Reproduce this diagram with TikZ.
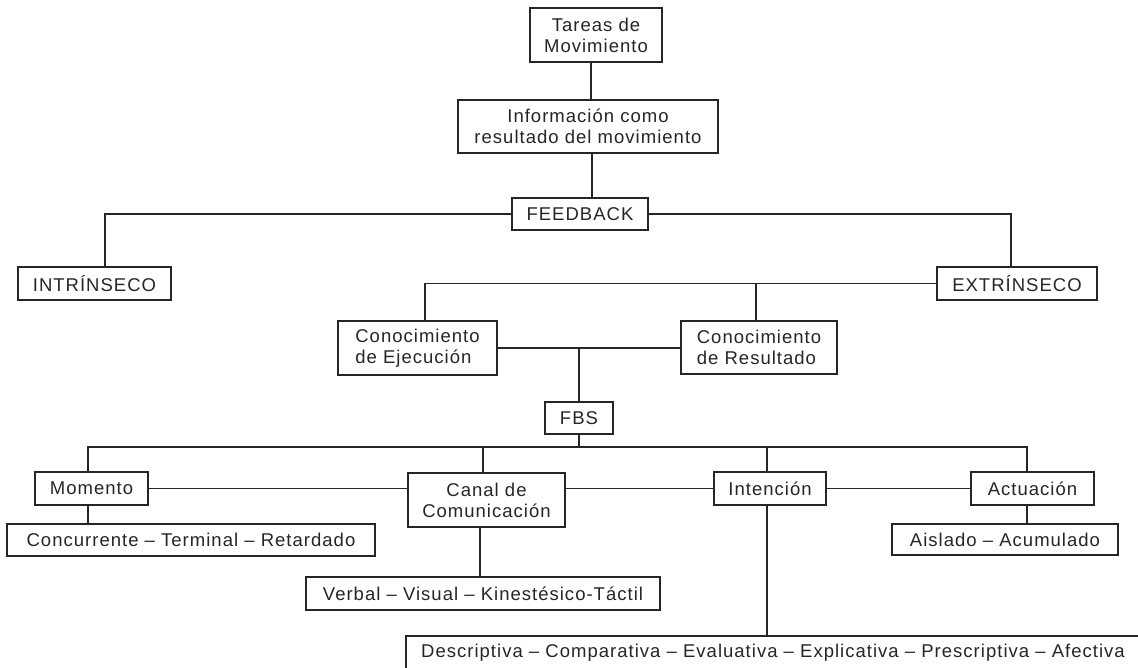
\documentclass[tikz,border=0pt]{standalone}
\usepackage{fontspec}
\setmainfont{Liberation Sans}[LetterSpace=5.5]
\usetikzlibrary{calc}

\tikzset{
  box/.style={draw=black!85, line width=1.2pt, rectangle, inner sep=0pt,
    fill=white, font=\fontsize{18.5pt}{21pt}\selectfont, text=black!85,
    align=center},
  lbox/.style={box, align=left},
  link/.style={draw=black!85, line width=1.2pt}
}

\begin{document}
\begin{tikzpicture}[x=1pt, y=-1pt]
  \useasboundingbox[fill=white] (0,0) rectangle (1138,667);
  \clip (0,0) rectangle (1138,667);

  % top chain
  \node[box, minimum width=132pt, minimum height=54pt] (tareas) at (596,35) {Tareas de\\Movimiento};
  \node[box, minimum width=260pt, minimum height=53pt] (info) at (588,126.5) {Información como\\resultado del movimiento};
  \node[box, minimum width=136pt, minimum height=32pt] (feedback) at (580,214) {FEEDBACK};

  % feedback kinds
  \node[box, minimum width=153pt, minimum height=33pt] (intr) at (94.5,283.5) {INTRÍNSECO};
  \node[box, minimum width=160pt, minimum height=33pt] (extr) at (1017,283.5) {EXTRÍNSECO};

  % knowledge of execution / result
  \node[lbox, minimum width=159pt, minimum height=54pt] (ceje) at (417.5,348) {Conocimiento\\de Ejecución};
  \node[lbox, minimum width=156pt, minimum height=53pt] (cres) at (759,347.5) {Conocimiento\\de Resultado};
  \node[box, minimum width=68pt, minimum height=32pt] (fbs) at (579,418) {FBS};

  % FBS dimensions
  \node[box, minimum width=113pt, minimum height=33pt] (momento) at (91.5,488.5) {Momento};
  \node[box, minimum width=157pt, minimum height=54pt] (canal) at (486.5,500) {Canal de\\Comunicación};
  \node[box, minimum width=112pt, minimum height=33pt] (intencion) at (770,488.5) {Intención};
  \node[box, minimum width=123pt, minimum height=33pt] (actuacion) at (1032.5,488.5) {Actuación};

  % values of each dimension
  \node[box, minimum width=368pt, minimum height=32pt] (conc) at (191,540) {Concurrente – Terminal – Retardado};
  \node[box, minimum width=354pt, minimum height=33pt] (verbal) at (483,593.5) {Verbal – Visual – Kinestésico-Táctil};
  \node[box, minimum width=226pt, minimum height=31pt] (aislado) at (1005,539.5) {Aislado – Acumulado};
  \node[box, minimum width=734pt, minimum height=34pt] (desc) at (773,653) {Descriptiva – Comparativa – Evaluativa – Explicativa – Prescriptiva – Afectiva};

  % connectors
  \draw[link] ([xshift=-5pt]tareas.south) -- ([xshift=-5pt]tareas.south |- info.north);
  \draw[link] ([xshift=4pt]info.south) -- ([xshift=4pt]info.south |- feedback.north);
  \draw[link] (feedback.west) -| ([xshift=10.5pt]intr.north);
  \draw[link] (feedback.east) -| ([xshift=-6pt]extr.north);

  \draw[link] (extr.west) -| ([xshift=7.5pt]ceje.north);
  \draw[link] ([xshift=-3pt]cres.north) -- ([xshift=-3pt]cres.north |- extr.west);
  \draw[link] (ceje.east) -- (ceje.east -| cres.west);
  \draw[link] (fbs.north) -- (fbs.north |- ceje.east);

  \coordinate (bus) at (579,447);
  \draw[link] (fbs.south) -- (bus);
  \draw[link] (bus) -| ([xshift=-3.5pt]momento.north);
  \draw[link] (bus) -| ([xshift=-3.5pt]canal.north);
  \draw[link] (bus) -| ([xshift=-3pt]intencion.north);
  \draw[link] (bus) -| ([xshift=-5.5pt]actuacion.north);

  \draw[link] (momento.east) -- (momento.east -| canal.west);
  \draw[link] (intencion.west) -- (intencion.west -| canal.east);
  \draw[link] (intencion.east) -- (actuacion.west);

  \draw[link] ([xshift=-3.5pt]momento.south) -- ([xshift=-3.5pt]momento.south |- conc.north);
  \draw[link] ([xshift=-6.5pt]canal.south) -- ([xshift=-6.5pt]canal.south |- verbal.north);
  \draw[link] ([xshift=-3pt]intencion.south) -- ([xshift=-3pt]intencion.south |- desc.north);
  \draw[link] ([xshift=-5.5pt]actuacion.south) -- ([xshift=-5.5pt]actuacion.south |- aislado.north);
\end{tikzpicture}
\end{document}
